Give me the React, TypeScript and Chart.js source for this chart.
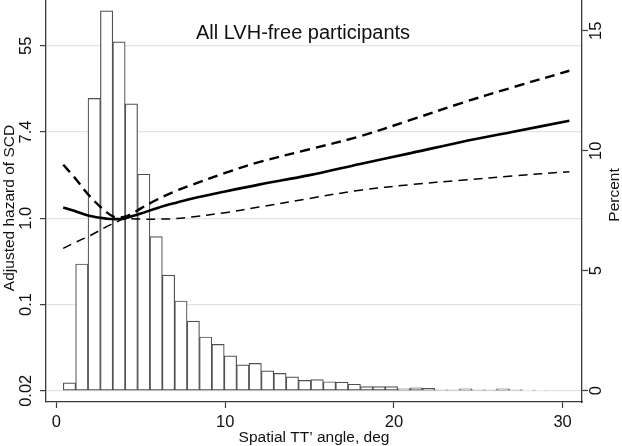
import React, { useEffect, useRef } from "react";
import { Chart, registerables } from "chart.js";

Chart.register(...registerables);

const FONT = "'Liberation Sans', Arial, Helvetica, sans-serif";

// Histogram of spatial TT' angle (percent per bin)
const binStart = 0.403;
const binWidth = 0.734;
const histPercent = [
  0.33, 5.28, 12.18, 15.83, 14.54, 11.95, 9.02, 6.42, 4.82, 3.74,
  2.9, 2.24, 1.93, 1.45, 1.08, 1.14, 0.83, 0.72, 0.58, 0.43,
  0.46, 0.375, 0.36, 0.27, 0.17, 0.17, 0.17, 0.08, 0.125, 0.1,
  0.04, 0.04, 0.08, 0.04, 0.04, 0.08, 0.05, 0.03, 0.03,
];

// Spline curves (log hazard)
const curveX = [0.4, 1, 2, 3, 3.5, 4, 4.5, 5, 6, 7, 8, 10, 12, 15, 18, 21, 24, 27, 30.4];
const hazardLog = [0.25, 0.18, 0.05, -0.01, -0.02, -0.01, 0.05, 0.11, 0.24, 0.35, 0.45, 0.62, 0.78, 1.0, 1.26, 1.51, 1.77, 2.0, 2.26];
const upperLog = [1.24, 0.98, 0.5, 0.13, 0.02, 0.03, 0.11, 0.23, 0.44, 0.62, 0.77, 1.05, 1.3, 1.6, 1.9, 2.28, 2.67, 3.03, 3.42];
const lowerLog = [-0.7, -0.58, -0.4, -0.19, -0.1, -0.01, -0.01, -0.02, -0.02, -0.01, 0.03, 0.13, 0.26, 0.46, 0.65, 0.78, 0.88, 0.98, 1.08];

// Axes ticks
const xTicks = [0, 10, 20, 30];
const leftTickValues = [-4, -2, 0, 2, 4];
const leftTickLabels = ["0.02", "0.1", "1.0", "7.4", "55"];
const rightTickValues = [0, 5, 10, 15];
const rightTickLabels = ["0", "5", "10", "15"];

const TITLE = "All LVH-free participants";
const X_TITLE = "Spatial TT\u2019 angle, deg";
const LEFT_TITLE = "Adjusted hazard of SCD";
const RIGHT_TITLE = "Percent";

const AXIS_COLOR = "#3a3a3a";
const TEXT_COLOR = "#111";

const labelPlugin = {
  id: "customLabels",
  afterDraw(chart: any) {
    const ctx = chart.ctx;
    const yL = chart.scales.yL;
    const yR = chart.scales.yR;
    const area = chart.chartArea;
    ctx.save();
    ctx.fillStyle = TEXT_COLOR;
    ctx.textAlign = "center";
    ctx.textBaseline = "middle";
    ctx.font = `16.5px ${FONT}`;
    leftTickValues.forEach((v, i) => {
      const y = yL.getPixelForValue(v);
      ctx.save();
      ctx.translate(yL.right - 20, y);
      ctx.rotate(-Math.PI / 2);
      ctx.fillText(leftTickLabels[i], 0, 0);
      ctx.restore();
    });
    rightTickValues.forEach((v, i) => {
      const y = yR.getPixelForValue(v);
      ctx.save();
      ctx.translate(yR.left + 14, y);
      ctx.rotate(-Math.PI / 2);
      ctx.fillText(rightTickLabels[i], 0, 0);
      ctx.restore();
    });
    ctx.font = `15.5px ${FONT}`;
    ctx.save();
    ctx.translate(yL.left + 10, (area.top + area.bottom) / 2 + 7);
    ctx.rotate(-Math.PI / 2);
    ctx.fillText(LEFT_TITLE, 0, 0);
    ctx.restore();
    ctx.save();
    ctx.translate(yR.left + 33, (area.top + area.bottom) / 2 - 6);
    ctx.rotate(-Math.PI / 2);
    ctx.fillText(RIGHT_TITLE, 0, 0);
    ctx.restore();
    ctx.font = `20px ${FONT}`;
    ctx.fillText(TITLE, area.left + 257, area.top + 33);
    ctx.restore();
  },
};

export default function App() {
  const canvasRef = useRef<HTMLCanvasElement | null>(null);

  useEffect(() => {
    document.body.style.margin = "0";
    const canvas = canvasRef.current;
    if (!canvas) return;

    const histData = histPercent.map((p, i) => ({ x: binStart + binWidth * (i + 0.5), y: p }));
    const mk = (arr: number[]) => curveX.map((x, i) => ({ x, y: arr[i] }));

    const lineBase = {
      type: "line",
      yAxisID: "yL",
      borderColor: "#000",
      pointRadius: 0,
      tension: 0.35,
      order: 1,
    };

    const chart = new Chart(canvas, {
      type: "bar",
      data: {
        datasets: [
          { ...lineBase, data: mk(hazardLog), borderWidth: 2.6 } as any,
          { ...lineBase, data: mk(upperLog), borderWidth: 2.4, borderDash: [10, 6] } as any,
          { ...lineBase, data: mk(lowerLog), borderWidth: 1.5, borderDash: [9, 6] } as any,
          {
            type: "bar",
            data: histData,
            yAxisID: "yR",
            backgroundColor: "#ffffff",
            borderColor: "#505050",
            borderWidth: 1.2,
            borderSkipped: false,
            barPercentage: 1,
            categoryPercentage: 1,
            grouped: false,
            order: 2,
          } as any,
        ],
      },
      options: {
        responsive: false,
        animation: false,
        layout: { padding: 0 },
        plugins: {
          legend: { display: false },
          tooltip: { enabled: false },
          title: { display: false },
        },
        scales: {
          x: {
            type: "linear",
            min: -0.62,
            max: 31.15,
            offset: false,
            afterBuildTicks: (s: any) => {
              s.ticks = xTicks.map((v) => ({ value: v }));
            },
            afterFit: (s: any) => {
              s.height = 44;
            },
            grid: {
              offset: false,
              drawOnChartArea: false,
              drawTicks: true,
              tickLength: 6,
              tickColor: AXIS_COLOR,
              tickWidth: 1.2,
            },
            border: { display: true, color: AXIS_COLOR, width: 1.3 },
            ticks: {
              color: TEXT_COLOR,
              font: { family: FONT, size: 16.5 },
              padding: 5,
              maxRotation: 0,
              autoSkip: false,
              callback: (v: any) => String(v),
            },
            title: {
              display: true,
              text: X_TITLE,
              color: TEXT_COLOR,
              font: { family: FONT, size: 15.5, lineHeight: 1 },
              padding: { top: 0, bottom: 1 },
            },
          },
          yL: {
            type: "linear",
            position: "left",
            min: -4.26,
            max: 5.06,
            afterBuildTicks: (s: any) => {
              s.ticks = leftTickValues.map((v) => ({ value: v }));
            },
            afterFit: (s: any) => {
              s.width = 46;
            },
            grid: {
              color: "#e3e3e3",
              lineWidth: 1.2,
              drawTicks: true,
              tickLength: 6,
              tickColor: AXIS_COLOR,
              tickWidth: 1.2,
            },
            border: { display: true, color: AXIS_COLOR, width: 1.3 },
            ticks: { display: false },
          },
          yR: {
            type: "linear",
            position: "right",
            min: -0.47,
            max: 16.28,
            afterBuildTicks: (s: any) => {
              s.ticks = rightTickValues.map((v) => ({ value: v }));
            },
            afterFit: (s: any) => {
              s.width = 40;
            },
            grid: {
              drawOnChartArea: false,
              drawTicks: true,
              tickLength: 6,
              tickColor: AXIS_COLOR,
              tickWidth: 1.2,
            },
            border: { display: true, color: AXIS_COLOR, width: 1.3 },
            ticks: { display: false },
          },
        },
      } as any,
      plugins: [labelPlugin],
    });

    return () => {
      chart.destroy();
    };
  }, []);

  return (
    <div style={{ width: 622, height: 446, background: "#fff" }}>
      <canvas ref={canvasRef} width={622} height={446} style={{ display: "block" }} />
    </div>
  );
}
